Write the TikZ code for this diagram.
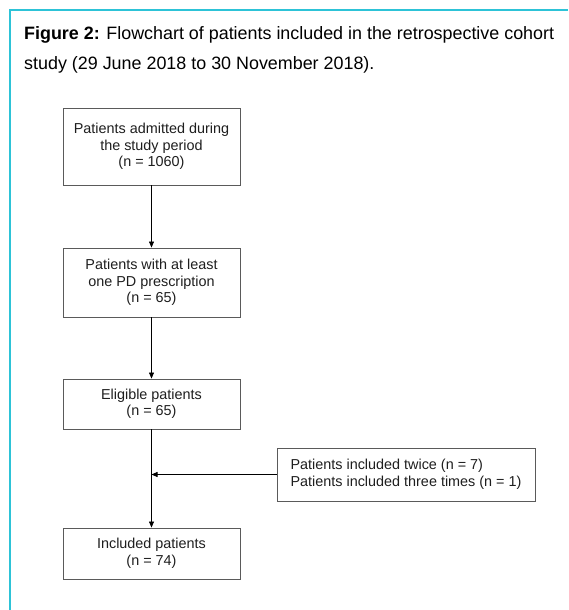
\documentclass[tikz,border=0pt]{standalone}
\usepackage{fontspec}
\setmainfont{Liberation Sans}
\usetikzlibrary{arrows.meta,positioning}

\definecolor{framecyan}{RGB}{45,195,215}
\definecolor{boxgrey}{RGB}{90,90,90}
\definecolor{textgrey}{RGB}{30,30,30}

\begin{document}
\begin{tikzpicture}[
		x=1pt,
		y=-1pt,
		line join=miter,
		>=Triangle,
		flowbox/.style={draw=boxgrey, line width=0.9pt, minimum width=177pt,
			align=center, inner sep=0pt, text=textgrey,
			font=\fontsize{14.4}{16.5}\selectfont},
		flowarrow/.style={-{Triangle[length=6pt,width=5pt]}, line width=0.6pt}
		]
		
		\useasboundingbox (0,0) rectangle (568,610);
		
		%------------------------------------------------------------------
		% Frame
		%------------------------------------------------------------------
		\coordinate (frameTL) at (10,10);
		\coordinate (frameTR) at (568,10);
		\coordinate (frameBL) at (10,610);
		\draw[framecyan, line width=1.6pt] (frameBL) -- (frameTL) -- (frameTR);
		
		%------------------------------------------------------------------
		% Caption
		%------------------------------------------------------------------
		\node[anchor=north west, align=left, inner sep=0pt,
		font=\fontsize{17.9}{30}\selectfont] (caption) at (24,26)
		{\textbf{Figure 2:} Flowchart of patients included in the retrospective cohort\\
			study (29 June 2018 to 30 November 2018).};
		
		%------------------------------------------------------------------
		% Boxes
		%------------------------------------------------------------------
		\node[flowbox, minimum height=77pt] (admitted) at (151.5,146.5)
		{Patients admitted during\\the study period\\(n = 1060)};
		
		\node[flowbox, minimum height=69pt] (prescribed) at (151.5,282.5)
		{Patients with at least\\one PD prescription\\(n = 65)};
		
		\node[flowbox, minimum height=50pt] (eligible) at (151.5,404)
		{Eligible patients\\(n = 65)};
		
		\node[flowbox, minimum height=51pt] (included) at (151.5,553.5)
		{Included patients\\(n = 74)};
		
		\node[flowbox, minimum width=258pt, minimum height=53pt, align=left]
		(repeated) at (406,474.5)
		{Patients included twice (n = 7)\\Patients included three times (n = 1)};
		
		%------------------------------------------------------------------
		% Arrows
		%------------------------------------------------------------------
		\draw[flowarrow] (admitted) -- (prescribed);
		\draw[flowarrow] (prescribed) -- (eligible);
		\draw[flowarrow] (eligible) -- (included);
		\draw[flowarrow] (repeated.west) -- (repeated.west -| eligible.south);
		
	\end{tikzpicture}
\end{document}
